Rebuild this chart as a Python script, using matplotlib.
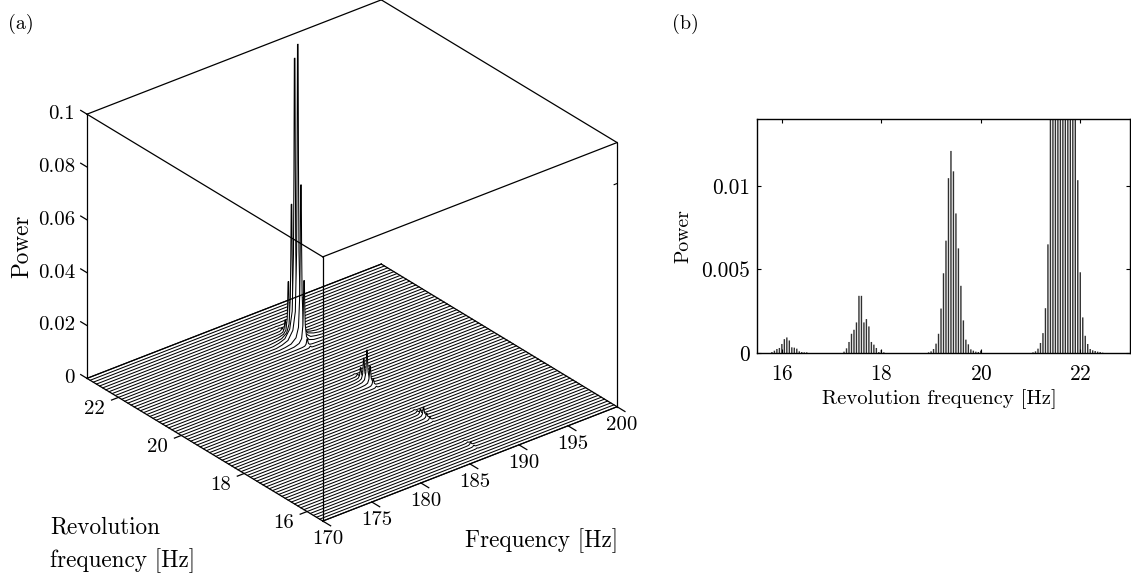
import numpy as np
import matplotlib
matplotlib.use("Agg")
import matplotlib.pyplot as plt
from mpl_toolkits.mplot3d import proj3d
from mpl_toolkits.mplot3d.art3d import Poly3DCollection

plt.rcParams['font.family'] = ['cmr10', 'DejaVu Sans']
plt.rcParams['axes.formatter.use_mathtext'] = True

# peaks of panel (b), one list per cluster
rev_16 = [15.80, 15.85, 15.90, 15.95, 16.00, 16.05, 16.10, 16.15, 16.20, 16.25, 16.30, 16.35, 16.40, 16.45, 16.50]
power_16 = [.00006, .00014, .00024, .0003, .00054, .00083, .00093, .00075, .00034, .00032, .00026, .0001, .00006, .00004, .00004]
rev_18 = [17.25, 17.30, 17.35, 17.40, 17.45, 17.50, 17.55, 17.60, 17.65, 17.70, 17.75, 17.80, 17.85, 17.90, 17.95, 18.00, 18.05]
power_18 = [.00008, .00028, .00066, .00115, .00139, .00183, .00342, .00342, .00183, .00203, .00159, .00066, .0005, .0003, .00006, .00018, .00004]
rev_20 = [18.95, 19.00, 19.05, 19.10, 19.15, 19.20, 19.25, 19.30, 19.35, 19.40, 19.45, 19.50, 19.55, 19.60, 19.65, 19.70, 19.75, 19.80, 19.85, 19.90, 19.95, 20.00]
power_20 = [.00004, .0001, .00024, .00056, .00115, .00266, .00477, .00672, .01046, .01209, .01087, .00835, .00626, .00402, .00195, .0008, .00052, .00022, .00014, .00008, .00006, .00014]
rev_22 = [21.05, 21.10, 21.15, 21.20, 21.25, 21.30, 21.35, 21.40, 21.45, 21.50, 21.55, 21.60, 21.65, 21.70, 21.75, 21.80, 21.85, 21.90, 21.95, 22.00, 22.05, 22.10, 22.15, 22.20, 22.25, 22.30, 22.35, 22.40, 22.45]
power_22 = [.00004, .0001, .00026, .0006, .00119, .00268, .0065, .024, .04, .0595, .09, .112, .115, .106, .08, .05, .03, .02, .01034, .00483, .00213, .00103, .00054, .00024, .00016, .00012, .00008, .00006, .00002]

# waterfall lines of panel (a)
rev_lines = [15.5, 15.6, 15.7, 15.8, 15.9, 16.0, 16.1, 16.2, 16.3, 16.4, 16.5, 16.6, 16.7, 16.8, 16.9, 17.0, 17.1, 17.2, 17.3,
             17.4, 17.5, 17.6, 17.7, 17.8, 17.9, 18.0, 18.1, 18.2, 18.3, 18.4, 18.5, 18.6, 18.7, 18.8, 18.9, 19.0, 19.1, 19.2,
             19.3, 19.4, 19.5, 19.6, 19.7, 19.8, 19.9, 20.0, 20.1, 20.2, 20.3, 20.4, 20.5, 20.6, 20.7, 20.8, 20.9, 21.0, 21.1,
             21.2, 21.3, 21.4, 21.5, 21.6, 21.7, 21.8, 21.9, 22.0, 22.1, 22.2, 22.3, 22.4, 22.5, 22.6, 22.7, 22.8, 22.9, 23.0]
peak_freq = 187.0
profile_df = [-2.2, -1.6, -1.0, -0.5, -0.25, -0.12, -0.07, -0.03, 0.03, 0.07, 0.12, 0.25, 0.5, 1.0, 1.6, 2.2]
profile_val = [0.0, 0.004, 0.012, 0.04, 0.1, 0.3, 0.6, 1.0, 1.0, 0.6, 0.3, 0.1, 0.04, 0.012, 0.004, 0.0]

freq_ticks = [170, 175, 180, 185, 190, 195, 200]
rev_ticks = [16, 18, 20, 22]
power_ticks = [0, 0.02, 0.04, 0.06, 0.08, 0.1]
power_labels = ['0', '0.02', '0.04', '0.06', '0.08', '0.1']
bar_ticks = [16, 18, 20, 22]
bar_power_ticks = [0, 0.005, 0.01]
bar_power_labels = ['0', '0.005', '0.01']

W, H = 1131, 576
FS = 15
LS = 16.7
bar_rev = np.array(rev_16 + rev_18 + rev_20 + rev_22)
bar_power = np.array(power_16 + power_18 + power_20 + power_22)

fig = plt.figure(figsize=(W / 100, H / 100), dpi=100)

# panel (a)
S = 595
ax = fig.add_axes([46.5 / W, 1 - (-29 + S) / H, S / W, S / H], projection='3d', computed_zorder=False, proj_type='ortho')
ax.view_init(elev=29, azim=-128.7)
ax.set_box_aspect((1, 1, 0.801))
ax.set_axis_off()

for i, r in enumerate(rev_lines[::-1]):
    match = np.isclose(bar_rev, r)
    peak = bar_power[match][0] if match.any() else 0.0
    f = [170.0] + [peak_freq + d for d in profile_df] + [200.0]
    z = [0.0] + [peak * v for v in profile_val] + [0.0]
    verts = [[(a, r, b) for a, b in zip(f, z)]]
    ax.add_collection3d(Poly3DCollection(verts, facecolor='white', edgecolor='none', zorder=i * 2 + 2))
    ax.plot(f, [r] * len(f), z, color='k', lw=0.75, zorder=i * 2 + 3)

ax.set_xlim(170, 200, view_margin=0)
ax.set_ylim(15.5, 23, view_margin=0)
ax.set_zlim(0, 0.1, view_margin=0)


def label_at(f, r, z, s, ha='center'):
    x, y, _ = proj3d.proj_transform(f, r, z, ax.get_proj())
    ax.text2D(x, y, s, transform=ax.transData, ha=ha, va='center', fontsize=FS)


top = 500
box = dict(color='k', lw=0.9, zorder=top)
for f0, r0, f1, r1 in [(170, 23, 200, 23), (200, 23, 200, 15.5), (200, 15.5, 170, 15.5), (170, 15.5, 170, 23)]:
    ax.plot([f0, f1], [r0, r1], [0.1, 0.1], **box)
    ax.plot([f0, f1], [r0, r1], [0, 0], **box)
for f0, r0 in [(170, 23), (170, 15.5), (200, 15.5)]:
    ax.plot([f0, f0], [r0, r0], [0, 0.1], **box)

for f0 in freq_ticks:
    ax.plot([f0, f0], [15.5, 15.25], [0, 0], **box)
    label_at(f0 - 1.54, 15.5 - 0.64, 0, str(f0))
for r0 in rev_ticks:
    ax.plot([170, 169.3], [r0, r0], [0, 0], **box)
    label_at(170 - 2.69, r0 - 0.09, 0, str(r0))
for z0, lab in zip(power_ticks, power_labels):
    ax.plot([170, 170], [23, 23.2], [z0, z0], **box)
    label_at(170 - 0.75, 23.15, z0, lab, ha='right')
ax.plot([200, 199.7], [15.5, 15.5], [0.0845, 0.0845], color='k', lw=0.8, zorder=top)

fig.text(8 / W, 1 - 24 / H, '(a)', ha='left', va='center', fontsize=14.4)
fig.text(672 / W, 1 - 24 / H, '(b)', ha='left', va='center', fontsize=14.4)
fig.text(22 / W, 1 - 246 / H, 'Power', rotation=90, ha='center', va='center', fontsize=LS)
fig.text(50 / W, 1 - 527 / H, 'Revolution', ha='left', va='center', fontsize=LS)
fig.text(50 / W, 1 - 561 / H, 'frequency [Hz]', ha='left', va='center', fontsize=LS)
fig.text(542 / W, 1 - 541 / H, 'Frequency [Hz]', ha='center', va='center', fontsize=LS)

# panel (b)
bx = fig.add_axes([757 / W, 1 - 353 / H, 373 / W, 234 / H])
bars = bx.bar(bar_rev, bar_power, width=0.028, color='#303030', linewidth=0)
for b in bars:
    b.set_snap(False)
bx.set_xlim(15.5, 23)
bx.set_ylim(0, 0.014)
bx.set_xticks(bar_ticks)
bx.set_yticks(bar_power_ticks)
bx.set_yticklabels(bar_power_labels)
bx.tick_params(direction='in', top=True, right=True, length=3, width=0.8, labelsize=15.4, pad=5)
bx.tick_params(axis='x', pad=8)
bx.set_xlabel('Revolution frequency [Hz]', fontsize=14.85)
bx.xaxis.set_label_coords((939 - 757) / 373, -0.154)
bx.set_ylabel('Power', fontsize=14.2)
bx.yaxis.set_label_coords(-0.172, 0.5)
for s in bx.spines.values():
    s.set_linewidth(1.0)

fig.savefig('out.png', dpi=100)
